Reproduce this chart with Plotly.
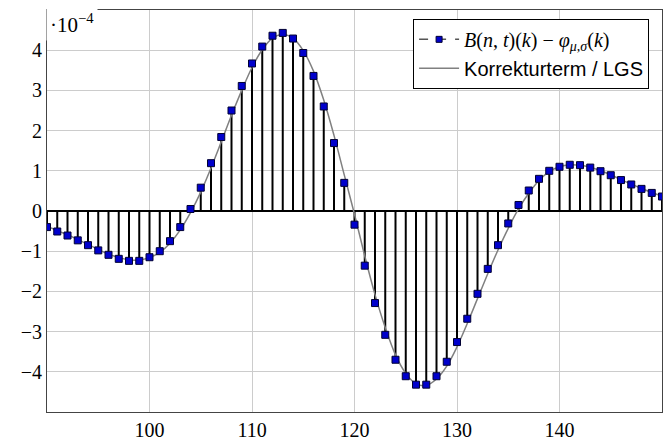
import plotly.graph_objects as go

# k values (sample index)
k = list(range(90, 151))

# B(n,t)(k) - phi_{mu,sigma}(k), in units of 1e-4
diff_vals = [
    -0.40, -0.51, -0.61, -0.73, -0.85, -0.98, -1.09, -1.19, -1.24, -1.24,
    -1.15, -1.00, -0.75, -0.40, 0.05, 0.58, 1.19, 1.84, 2.50, 3.11,
    3.67, 4.09, 4.36, 4.43, 4.29, 3.93, 3.36, 2.60, 1.69, 0.70,
    -0.34, -1.36, -2.29, -3.08, -3.70, -4.11, -4.32, -4.32, -4.11, -3.75,
    -3.26, -2.68, -2.06, -1.44, -0.85, -0.31, 0.15, 0.51, 0.80, 1.00,
    1.10, 1.15, 1.14, 1.08, 0.99, 0.89, 0.77, 0.66, 0.55, 0.45,
    0.36,
]

# Korrekturterm / LGS (smooth curve), in units of 1e-4
corr_vals = [
    -0.38, -0.49, -0.59, -0.71, -0.83, -0.96, -1.07, -1.16, -1.21, -1.22,
    -1.16, -1.03, -0.80, -0.47, -0.04, 0.47, 1.07, 1.72, 2.38, 3.00,
    3.57, 4.01, 4.30, 4.39, 4.30, 3.99, 3.48, 2.76, 1.88, 0.90,
    -0.08, -1.12, -2.08, -2.90, -3.58, -4.04, -4.30, -4.34, -4.18, -3.86,
    -3.38, -2.80, -2.18, -1.56, -0.97, -0.43, 0.05, 0.44, 0.76, 0.98,
    1.10, 1.15, 1.14, 1.09, 1.00, 0.90, 0.78, 0.67, 0.56, 0.46,
    0.37,
]

x_ticks = [100, 110, 120, 130, 140]
y_ticks = [-4, -3, -2, -1, 0, 1, 2, 3, 4]

SERIF = "Liberation Serif"
SANS = "Liberation Sans"

# stems built from data
stem_x, stem_y = [], []
for kk, v in zip(k, diff_vals):
    stem_x += [kk, kk, None]
    stem_y += [0, v, None]

fig = go.Figure()

fig.add_trace(go.Scatter(
    x=stem_x, y=stem_y, mode="lines",
    line=dict(color="black", width=2),
    showlegend=False, hoverinfo="skip",
))

fig.add_trace(go.Scatter(
    x=k, y=corr_vals, mode="lines", line_shape="spline",
    line=dict(color="#808080", width=1.5),
    showlegend=False,
))

fig.add_trace(go.Scatter(
    x=k, y=diff_vals, mode="markers",
    marker=dict(symbol="square", size=7, color="#0000cc",
                line=dict(color="#000033", width=1)),
    showlegend=False,
))

# legend entries
legend_math = ('<span style="font-family:Liberation Serif"><i>B</i>(<i>n</i>, <i>t</i>)(<i>k</i>) − '
               '<i>φ</i><sub><i>μ</i>,<i>σ</i></sub>(<i>k</i>)</span>')
fig.add_trace(go.Scatter(
    x=[None], y=[None], mode="lines+markers", name=legend_math,
    line=dict(color="#555555", width=1.5, dash="dash"),
    marker=dict(symbol="square", size=6, color="#0000cc",
                line=dict(color="#000033", width=1)),
))
fig.add_trace(go.Scatter(
    x=[None], y=[None], mode="lines", name="Korrekturterm / LGS",
    line=dict(color="#808080", width=1.5),
))

fig.update_layout(
    width=669, height=437,
    margin=dict(l=47, r=7, t=10, b=25, autoexpand=False),
    paper_bgcolor="white", plot_bgcolor="white",
    font=dict(family=SERIF, size=20, color="black"),
    showlegend=True,
    legend=dict(
        x=0.979, y=0.978, xanchor="right", yanchor="top",
        bgcolor="white", bordercolor="black", borderwidth=1,
        font=dict(family=SANS, size=20, color="black"),
        tracegroupgap=0, itemwidth=40,
    ),
    xaxis=dict(
        range=[90, 150], tickvals=x_ticks, automargin=False,
        showgrid=True, gridcolor="#cccccc", gridwidth=1,
        zeroline=False,
        showline=True, linecolor="#444444", linewidth=1, mirror=True,
        ticks="", tickfont=dict(family=SERIF, size=20),
    ),
    yaxis=dict(
        range=[-5, 5], tickvals=y_ticks, automargin=False,
        showgrid=True, gridcolor="#cccccc", gridwidth=1,
        zeroline=True, zerolinecolor="black", zerolinewidth=2,
        showline=True, linecolor="#444444", linewidth=1, mirror=True,
        ticks="", tickfont=dict(family=SERIF, size=20),
    ),
    annotations=[dict(
        xref="paper", yref="paper", x=0, y=1, xanchor="left", yanchor="top",
        text="·10<sup>−4</sup>", showarrow=False,
        font=dict(family=SERIF, size=21, color="black"),
        bgcolor="white", borderpad=3, xshift=-1, yshift=4,
    )],
)

fig.write_html("out.html", config={"displayModeBar": False},
               post_script="document.body.style.margin='0';")
